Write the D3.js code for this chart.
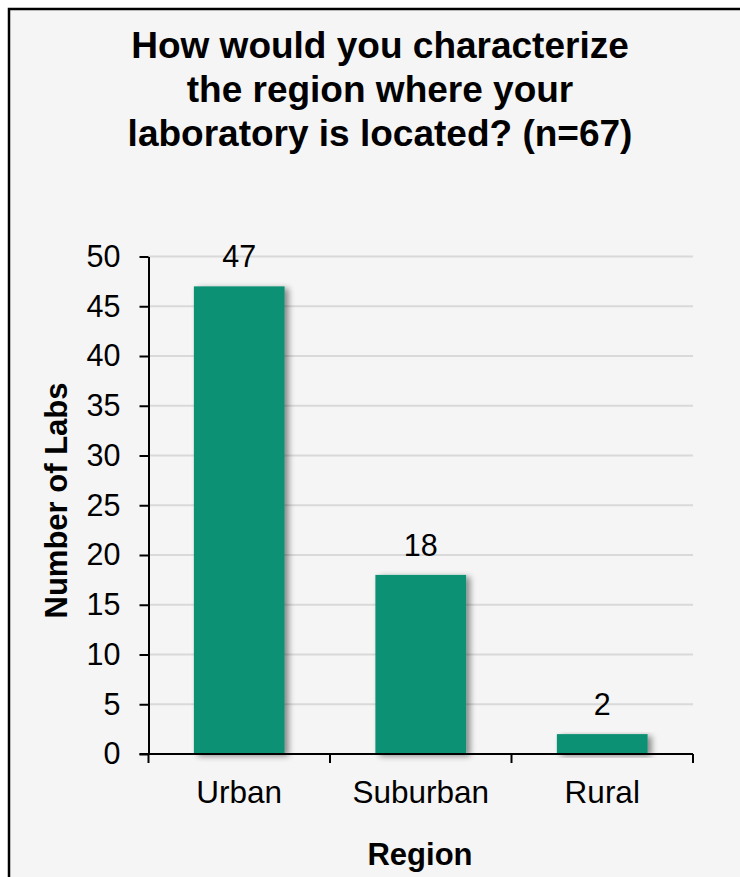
<!DOCTYPE html>
<html>
<head>
<meta charset="utf-8">
<script src="https://cdn.jsdelivr.net/npm/d3@7"></script>
<style>
  html, body { margin: 0; padding: 0; background: #ffffff; }
  svg { display: block; }
  text { font-family: "Liberation Sans", Arial, sans-serif; fill: #000; }
</style>
</head>
<body>
<svg id="chart" width="740" height="877"></svg>
<script>
// Survey answers: lab region
const categories = ["Urban", "Suburban", "Rural"];
const labCounts = [47, 18, 2];
const yTicks = [0, 5, 10, 15, 20, 25, 30, 35, 40, 45, 50];
const titleLines = ["How would you characterize", "the region where your", "laboratory is located? (n=67)"];
const xTitle = "Region";
const yTitle = "Number of Labs";

const svg = d3.select("#chart");
const W = 740, H = 877;
const FONT = "'Liberation Sans', Arial, sans-serif";

// Panel background with frame
svg.append("rect")
  .attr("x", 9).attr("y", 9)
  .attr("width", W + 20).attr("height", H + 20)
  .attr("fill", "#f5f5f5")
  .attr("stroke", "#000").attr("stroke-width", 2.5);

// Soft shadow for bars
const defs = svg.append("defs");
const f = defs.append("filter").attr("id", "barShadow")
  .attr("x", "-20%").attr("y", "-20%").attr("width", "150%").attr("height", "140%");
f.append("feGaussianBlur").attr("in", "SourceAlpha").attr("stdDeviation", 3).attr("result", "b");
f.append("feOffset").attr("in", "b").attr("dx", 4).attr("dy", 2).attr("result", "o");
f.append("feComponentTransfer").attr("in", "o").attr("result", "s")
  .append("feFuncA").attr("type", "linear").attr("slope", 0.45);
const m = f.append("feMerge");
m.append("feMergeNode").attr("in", "s");
m.append("feMergeNode").attr("in", "SourceGraphic");

const plot = { left: 148.5, right: 693, top: 256.5, bottom: 754 };

const x = d3.scaleBand()
  .domain(categories)
  .range([plot.left, plot.right])
  .paddingInner(0.5).paddingOuter(0.25);

const y = d3.scaleLinear()
  .domain([0, 50])
  .range([plot.bottom, plot.top]);

// Title
const title = svg.append("text")
  .attr("x", 380).attr("y", 58)
  .attr("text-anchor", "middle")
  .style("font-size", "37px").style("font-weight", "bold");
titleLines.forEach((t, i) => {
  title.append("tspan").attr("x", 380).attr("dy", i === 0 ? 0 : 44).text(t);
});

// Gridlines
svg.append("g")
  .selectAll("line")
  .data(yTicks.filter(d => d > 0))
  .join("line")
  .attr("x1", plot.left).attr("x2", plot.right)
  .attr("y1", d => y(d)).attr("y2", d => y(d))
  .attr("stroke", "#d9d9d9").attr("stroke-width", 2);

// Bars
svg.append("g")
  .selectAll("rect")
  .data(categories)
  .join("rect")
  .attr("x", d => x(d))
  .attr("y", (d, i) => y(labCounts[i]))
  .attr("width", x.bandwidth())
  .attr("height", (d, i) => y(0) - y(labCounts[i]))
  .attr("fill", "#0e9174")
  .attr("filter", "url(#barShadow)");

// Value labels
svg.append("g")
  .selectAll("text")
  .data(categories)
  .join("text")
  .attr("x", d => x(d) + x.bandwidth() / 2)
  .attr("y", (d, i) => y(labCounts[i]) - 19)
  .attr("text-anchor", "middle")
  .style("font-size", "30.5px")
  .text((d, i) => labCounts[i]);

// Y axis
const yAxis = svg.append("g")
  .attr("transform", `translate(${plot.left},0)`)
  .call(d3.axisLeft(y).tickValues(yTicks).tickSize(9).tickPadding(19).tickSizeOuter(0));
yAxis.select(".domain").attr("stroke", "#000").attr("stroke-width", 2);
yAxis.selectAll(".tick line").attr("stroke", "#000").attr("stroke-width", 2);
yAxis.selectAll(".tick text")
  .style("font-size", "30.5px")
  .style("font-family", FONT)
  .attr("fill", "#000");

// X axis: ticks at band boundaries
const xAxisG = svg.append("g");
xAxisG.append("line")
  .attr("x1", plot.left - 9).attr("x2", plot.right)
  .attr("y1", plot.bottom).attr("y2", plot.bottom)
  .attr("stroke", "#000").attr("stroke-width", 2);
const step = (plot.right - plot.left) / categories.length;
const boundaries = d3.range(categories.length + 1).map(i => plot.left + i * step);
xAxisG.selectAll("line.tk")
  .data(boundaries)
  .join("line").attr("class", "tk")
  .attr("x1", d => d).attr("x2", d => d)
  .attr("y1", plot.bottom).attr("y2", plot.bottom + 9)
  .attr("stroke", "#000").attr("stroke-width", 2);
xAxisG.selectAll("text")
  .data(categories)
  .join("text")
  .attr("x", d => x(d) + x.bandwidth() / 2)
  .attr("y", 803)
  .attr("text-anchor", "middle")
  .style("font-size", "31.5px")
  .text(d => d);

// Axis titles
svg.append("text")
  .attr("x", 420).attr("y", 865)
  .attr("text-anchor", "middle")
  .style("font-size", "31px").style("font-weight", "bold")
  .text(xTitle);

svg.append("text")
  .attr("transform", `translate(67,500.5) rotate(-90)`)
  .attr("text-anchor", "middle")
  .style("font-size", "31px").style("font-weight", "bold")
  .text(yTitle);
</script>
</body>
</html>
